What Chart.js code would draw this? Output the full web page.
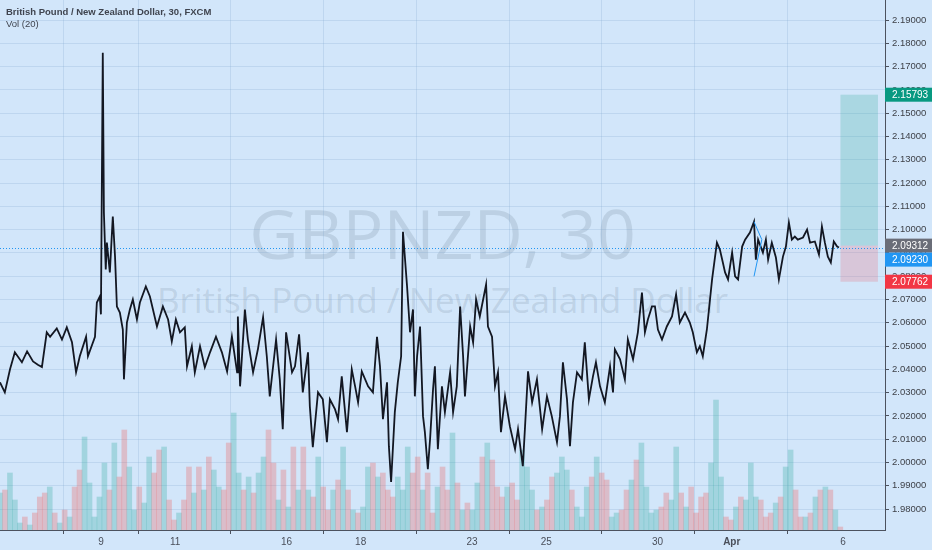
<!DOCTYPE html>
<html>
<head>
<meta charset="utf-8">
<title>GBPNZD, 30</title>
<script src="https://cdn.jsdelivr.net/npm/chart.js@4.4.1/dist/chart.umd.min.js"></script>
<style>
  html, body { margin: 0; padding: 0; background: #d2e6fa; }
  #wrap { position: relative; width: 932px; height: 550px; overflow: hidden; }
  #chart { position: absolute; left: 0; top: 0; z-index: 2; }
  .legend { position: absolute; left: 6px; font-family: 'Liberation Sans', Arial, sans-serif; color: #3f444f; z-index: 3; font-size: 9.5px; }
  #title { top: 6px; font-weight: bold; }
  #vol { top: 18px; }
  .mark { position: absolute; left: 0; width: 885px; text-align: center; font-family: 'Open Sans', sans-serif; line-height: normal; color: rgba(90, 110, 130, 0.18); z-index: 1; white-space: nowrap; }
  #mark1 { top: 186px; font-size: 68px; }
  #mark2 { top: 276px; font-size: 35px; }
</style>
</head>
<body>
<div id="wrap">
  <div class="legend" id="title">British Pound / New Zealand Dollar, 30, FXCM</div>
  <div class="legend" id="vol">Vol (20)</div>
  <div class="mark" id="mark1">GBPNZD, 30</div>
  <div class="mark" id="mark2">British Pound / New Zealand Dollar</div>
  <canvas id="chart" width="932" height="550"></canvas>
</div>
<script>
// time axis is in trading days, 0 = start of the Mar 9 session
var times = [
  -2.72, -2.59, -2.45, -2.32, -2.13, -1.99, -1.83, -1.70, -1.59, -1.46,
  -1.37, -1.19, -1.05, -0.92, -0.78, -0.67, -0.57, -0.40, -0.35, -0.16,
  -0.11, -0.03, 0.00, 0.05, 0.08, 0.13, 0.16, 0.24, 0.32, 0.38,
  0.43, 0.51, 0.59, 0.62, 0.70, 0.78, 0.86, 0.97, 1.05, 1.21,
  1.32, 1.51, 1.67, 1.81, 1.91, 2.02, 2.13, 2.26, 2.32, 2.45,
  2.53, 2.67, 2.80, 2.94, 3.10, 3.26, 3.40, 3.53, 3.67, 3.69,
  3.75, 3.88, 3.96, 4.10, 4.23, 4.37, 4.47, 4.55, 4.72, 4.82,
  4.90, 4.99, 5.15, 5.23, 5.34, 5.44, 5.58, 5.63, 5.71, 5.85,
  5.98, 6.09, 6.17, 6.31, 6.39, 6.49, 6.63, 6.76, 6.85, 6.93,
  7.03, 7.20, 7.33, 7.44, 7.52, 7.60, 7.71, 7.76, 7.82, 7.92,
  8.00, 8.09, 8.14, 8.25, 8.33, 8.41, 8.46, 8.52, 8.60, 8.68,
  8.73, 8.81, 8.87, 8.95, 9.00, 9.08, 9.19, 9.27, 9.41, 9.49,
  9.59, 9.68, 9.76, 9.81, 9.95, 10.03, 10.11, 10.21, 10.38, 10.43,
  10.54, 10.62, 10.70, 10.78, 10.89, 11.02, 11.16, 11.24, 11.37, 11.43,
  11.51, 11.62, 11.75, 11.89, 12.02, 12.15, 12.29, 12.37, 12.45, 12.56,
  12.64, 12.72, 12.83, 12.96, 13.04, 13.15, 13.26, 13.34, 13.45, 13.58,
  13.72, 13.80, 13.85, 13.99, 14.12, 14.20, 14.34, 14.47, 14.58, 14.66,
  14.74, 14.85, 14.93, 15.01, 15.12, 15.25, 15.39, 15.50, 15.60, 15.74,
  15.87, 15.95, 16.06, 16.14, 16.22, 16.33, 16.47, 16.60, 16.68, 16.76,
  16.82, 16.90, 17.01, 17.09, 17.17, 17.28, 17.36, 17.49, 17.60, 17.65,
  17.71, 17.84, 17.92, 17.98, 18.08, 18.19, 18.27, 18.38, 18.46, 18.54,
  18.62, 18.70, 18.78, 18.92, 19.03, 19.11, 19.24, 19.35, 19.43, 19.51,
  19.59, 19.67, 19.75, 19.84, 19.89
];

var prices = [
  2.0344, 2.0301, 2.0400, 2.0473, 2.0430, 2.0477, 2.0434, 2.0420, 2.0410, 2.0559,
  2.0540, 2.0576, 2.0528, 2.0580, 2.0516, 2.0387, 2.0456, 2.0540, 2.0456, 2.0540,
  2.0687, 2.0713, 2.0636, 2.1759, 2.1073, 2.0829, 2.0944, 2.0816, 2.1056, 2.0884,
  2.0670, 2.0644, 2.0571, 2.0357, 2.0601, 2.0657, 2.0700, 2.0614, 2.0687, 2.0756,
  2.0713, 2.0584, 2.0670, 2.0614, 2.0520, 2.0614, 2.0559, 2.0580, 2.0413, 2.0499,
  2.0387, 2.0499, 2.0409, 2.0473, 2.0540, 2.0473, 2.0391, 2.0540, 2.0387, 2.0627,
  2.0327, 2.0657, 2.0528, 2.0387, 2.0486, 2.0623, 2.0456, 2.0284, 2.0528, 2.0357,
  2.0143, 2.0559, 2.0387, 2.0413, 2.0550, 2.0301, 2.0473, 2.0241, 2.0066, 2.0301,
  2.0271, 2.0087, 2.0271, 2.0228, 2.0186, 2.0370, 2.0130, 2.0400, 2.0327, 2.0258,
  2.0391, 2.0327, 2.0301, 2.0540, 2.0413, 2.0186, 2.0344, 2.0070, 1.9916, 2.0216,
  2.0344, 2.0456, 2.0991, 2.0756, 2.0559, 2.0657, 2.0284, 2.0456, 2.0584, 2.0199,
  2.0130, 1.9971, 2.0100, 2.0314, 2.0413, 2.0057, 2.0327, 2.0216, 2.0387, 2.0216,
  2.0327, 2.0670, 2.0456, 2.0284, 2.0584, 2.0516, 2.0700, 2.0627, 2.0764, 2.0584,
  2.0540, 2.0327, 2.0387, 2.0130, 2.0284, 2.0156, 2.0057, 2.0143, 1.9984, 2.0156,
  2.0391, 2.0258, 2.0357, 2.0143, 2.0284, 2.0199, 2.0087, 2.0199, 2.0430, 2.0271,
  2.0070, 2.0258, 2.0387, 2.0357, 2.0516, 2.0271, 2.0370, 2.0430, 2.0327, 2.0258,
  2.0413, 2.0301, 2.0486, 2.0443, 2.0357, 2.0528, 2.0443, 2.0559, 2.0730, 2.0559,
  2.0614, 2.0670, 2.0670, 2.0571, 2.0528, 2.0584, 2.0627, 2.0721, 2.0601, 2.0644,
  2.0601, 2.0559, 2.0473, 2.0499, 2.0456, 2.0571, 2.0786, 2.0944, 2.0914, 2.0859,
  2.0816, 2.0786, 2.0901, 2.0799, 2.0786, 2.0927, 2.0957, 2.0987, 2.1034, 2.0871,
  2.0957, 2.0901, 2.0957, 2.0871, 2.0944, 2.0880, 2.0786, 2.0884, 2.0927, 2.1030,
  2.0957, 2.0970, 2.0957, 2.0966, 2.1000, 2.0944, 2.0949, 2.0893, 2.1013, 2.0944,
  2.0884, 2.0859, 2.0949, 2.0927, 2.0923
];

// volume, sampled at a regular spacing from the first visible bar
var volStart = -2.72;
var volStep = 0.134;
var volume = [
  37, 40, 57, 30, 7, 13, 5, 17, 33, 37,
  43, 17, 7, 20, 13, 43, 60, 93, 47, 13,
  33, 67, 40, 87, 53, 100, 63, 20, 43, 27,
  73, 57, 80, 83, 30, 10, 17, 30, 63, 37,
  63, 40, 73, 60, 43, 40, 87, 117, 57, 40,
  53, 37, 57, 73, 100, 67, 30, 60, 23, 83,
  40, 83, 40, 33, 73, 43, 20, 40, 50, 83,
  40, 20, 17, 23, 63, 67, 53, 57, 40, 33,
  53, 40, 83, 57, 73, 40, 57,
  17, 43, 63, 40, 97, 47, 20, 27, 20, 47,
  73, 87, 70, 43, 33, 43, 47, 30, 80, 63,
  40, 20, 23, 30, 53, 57, 73, 60, 40, 23,
  13, 43, 53, 73, 57, 50, 13, 17, 20, 40,
  50, 70, 87, 43, 17, 20, 23, 37, 30, 83,
  37, 23, 43, 17, 33, 37, 67, 130, 53, 13,
  10, 23, 33, 30, 67, 33, 30, 13, 17, 27,
  33, 63, 80, 40, 13, 13, 17, 33, 40, 43,
  40, 20, 3
];

// date ticks on the time axis
var tickDays = [0, 2, 5, 7, 10, 12, 15, 17, 20];
var tickLabels = ['9', '11', '16', '18', '23', '25', '30', 'Apr', '6'];

// long position tool and price line
var lastPrice = 2.09230;
var entryPrice = 2.09312;
var targetPrice = 2.15793;
var stopPrice = 2.07762;
var posStart = 19.93;
var posEnd = 20.94;

// small hand drawn line near the Apr 1 high
var drawTimes = [17.60, 17.81, 17.60];
var drawPrices = [2.1034, 2.0957, 2.0799];

var priceData = times.map(function (t, i) { return { x: t, y: prices[i] }; });

// close nearest before a time, to colour each volume bar
function closeAt(t) {
  var c = prices[0];
  for (var i = 0; i < times.length; i++) {
    if (times[i] <= t) c = prices[i];
  }
  return c;
}

var volData = [];
var volColors = [];
for (var i = 0; i < volume.length; i++) {
  var t = volStart + i * volStep;
  volData.push({ x: t, y: volume[i] });
  var down = closeAt(t) < closeAt(t - volStep);
  volColors.push(down ? 'rgba(239, 83, 80, 0.28)' : 'rgba(38, 166, 154, 0.28)');
}

var drawData = drawTimes.map(function (t, i) { return { x: t, y: drawPrices[i] }; });

// overlay: position boxes, price line, axis price tags
var overlay = {
  id: 'overlay',
  beforeDatasetsDraw: function (chart) {
    var ctx = chart.ctx;
    var x = chart.scales.x;
    var y = chart.scales.y;
    var area = chart.chartArea;
    var x0 = x.getPixelForValue(posStart);
    var x1 = x.getPixelForValue(posEnd);
    var yE = y.getPixelForValue(entryPrice);
    var yT = y.getPixelForValue(targetPrice);
    var yS = y.getPixelForValue(stopPrice);
    ctx.save();
    ctx.fillStyle = 'rgba(8, 153, 129, 0.2)';
    ctx.fillRect(x0, yT, x1 - x0, yE - yT);
    ctx.fillStyle = 'rgba(242, 54, 69, 0.18)';
    ctx.fillRect(x0, yE, x1 - x0, yS - yE);
    // dotted price line
    var yL = Math.round(y.getPixelForValue(lastPrice)) + 0.5;
    ctx.strokeStyle = '#2196f3';
    ctx.lineWidth = 1;
    ctx.setLineDash([1, 2]);
    ctx.beginPath();
    ctx.moveTo(area.left, yL);
    ctx.lineTo(area.right, yL);
    ctx.stroke();
    ctx.restore();
  },
  afterDraw: function (chart) {
    var ctx = chart.ctx;
    var y = chart.scales.y;
    var area = chart.chartArea;
    function tag(price, bg, py) {
      ctx.fillStyle = bg;
      ctx.fillRect(area.right, py - 7, chart.width - area.right, 14);
      ctx.fillStyle = '#ffffff';
      ctx.font = '10px "Liberation Sans", Arial, sans-serif';
      ctx.textBaseline = 'middle';
      ctx.textAlign = 'left';
      ctx.fillText(price.toFixed(5), area.right + 7, py + 0.5);
    }
    ctx.save();
    var yE = y.getPixelForValue(entryPrice);
    var yL = y.getPixelForValue(lastPrice);
    tag(targetPrice, '#089981', y.getPixelForValue(targetPrice));
    tag(entryPrice, '#6a6d78', yE);
    // keep the last price tag from covering the entry tag
    tag(lastPrice, '#2196f3', Math.max(yL, yE + 14));
    tag(stopPrice, '#f23645', y.getPixelForValue(stopPrice));
    ctx.restore();
  }
};

var chart = new Chart(document.getElementById('chart'), {
  type: 'line',
  data: {
    datasets: [{
      label: 'GBPNZD',
      data: priceData,
      borderColor: '#131722',
      borderWidth: 1.8,
      pointRadius: 0,
      tension: 0,
      yAxisID: 'y',
      order: 1
    }, {
      label: 'Drawing',
      data: drawData,
      borderColor: '#2196f3',
      borderWidth: 1,
      pointRadius: 0,
      yAxisID: 'y',
      order: 0
    }, {
      type: 'bar',
      label: 'Vol',
      data: volData,
      backgroundColor: volColors,
      borderWidth: 0,
      barPercentage: 1,
      categoryPercentage: 1,
      yAxisID: 'yVol',
      order: 2
    }]
  },
  options: {
    responsive: false,
    animation: false,
    layout: { padding: 0 },
    plugins: {
      legend: { display: false },
      tooltip: { enabled: false }
    },
    scales: {
      x: {
        type: 'linear',
        min: -2.72,
        max: 21.13,
        offset: false,
        afterBuildTicks: function (scale) {
          scale.ticks = tickDays.map(function (d) { return { value: d }; });
        },
        afterFit: function (scale) {
          scale.height = 20;
          scale.paddingLeft = 0;
          scale.paddingRight = 0;
        },
        grid: {
          color: 'rgba(120, 160, 200, 0.22)',
          tickColor: '#4c525e',
          tickLength: 4
        },
        border: { display: true, color: '#4c525e', width: 1 },
        ticks: {
          autoSkip: false,
          maxRotation: 0,
          padding: 2,
          color: '#4a4f5a',
          font: function (c) {
            return { family: '"Liberation Sans", Arial, sans-serif', size: 10, weight: c.index === 7 ? 'bold' : 'normal' };
          },
          callback: function (value, index) { return tickLabels[index]; }
        }
      },
      y: {
        position: 'right',
        min: 1.971,
        max: 2.1986,
        afterBuildTicks: function (scale) {
          scale.ticks = scale.ticks.filter(function (t) {
            return Math.abs(t.value * 100 - Math.round(t.value * 100)) < 1e-6;
          });
        },
        afterFit: function (scale) {
          scale.width = 47;
          scale.paddingTop = 0;
          scale.paddingBottom = 0;
        },
        grid: {
          color: 'rgba(120, 160, 200, 0.22)',
          tickColor: '#4c525e',
          tickLength: 4
        },
        border: { display: true, color: '#4c525e', width: 1 },
        ticks: {
          stepSize: 0.01,
          padding: 3,
          color: '#3c3f46',
          font: { family: '"Liberation Sans", Arial, sans-serif', size: 9.5 },
          callback: function (value) { return value.toFixed(5); }
        }
      },
      yVol: {
        display: false,
        min: 0,
        max: 530
      }
    }
  },
  plugins: [overlay]
});
</script>
</body>
</html>
